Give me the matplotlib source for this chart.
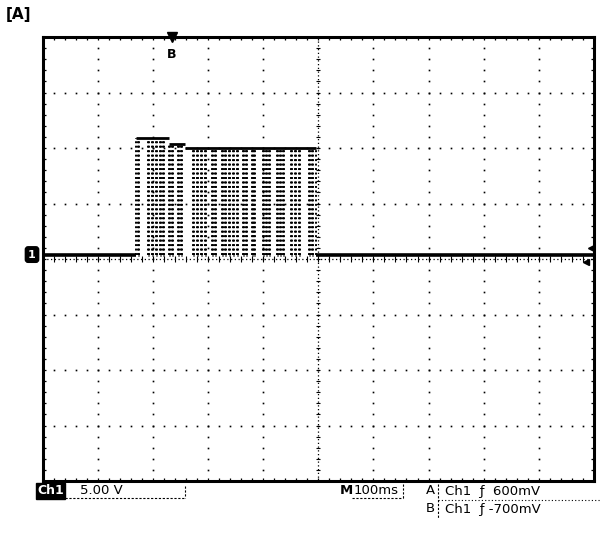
import matplotlib

matplotlib.use("Agg")
import matplotlib.pyplot as plt
import numpy as np

# scope settings (100 ms/div, 5 V/div, 10 x 8 divisions)
ms_per_div = 100
volts_per_div = 5
screen_center_v = -0.4  # ground marker sits slightly above screen centre

# burst: rises at burst_on, falls at burst_off; high level steps down a little
burst_on = 169.5
burst_off = 496.0
level_breaks = [169.5, 229.0, 258.0, 496.0]
level_volts = [10.5, 10.0, 9.6]

# short low-going dips inside the burst (start, end in ms)
dip_start = [173, 191, 199, 206, 213, 218, 229, 235, 246, 251, 273, 280, 287, 295,
             307, 313, 326, 331, 338, 345, 353, 364, 369, 380, 384, 400, 405, 411,
             425, 431, 436, 451, 458, 465, 483, 489]
dip_end = [175, 193, 201, 208, 215, 220, 231, 237, 248, 253, 275, 282, 289, 297,
           309, 315, 328, 333, 340, 347, 355, 366, 371, 382, 386, 402, 407, 413,
           427, 433, 438, 453, 460, 467, 485, 491]

trigger_pos_ms = 235
trig_a_v = 0.6
trig_b_v = -0.7

W, H = 606, 533
fig = plt.figure(figsize=(W / 100, H / 100), dpi=100)
ax = fig.add_axes([42.5 / W, 1 - 481 / H, 551.5 / W, 444 / H])
ax.set_xlim(0, 10 * ms_per_div)
ax.set_ylim(screen_center_v - 4 * volts_per_div, screen_center_v + 4 * volts_per_div)


def level_at(t):
    i = np.searchsorted(level_breaks, t, side="right") - 1
    return level_volts[min(max(i, 0), len(level_volts) - 1)]


# graticule dots
ys = np.arange(ax.get_ylim()[0], ax.get_ylim()[1] + 0.01, volts_per_div / 5)
xs = np.arange(0, 1000.1, ms_per_div / 5)
for k in range(1, 10):
    if k == 5:
        continue
    ax.plot(np.full_like(ys, k * ms_per_div), ys, ls="none", marker="s", ms=1.2,
            color="black", mew=0)
for j in range(1, 8):
    if j == 4:
        continue
    ax.plot(xs, np.full_like(xs, screen_center_v + (j - 4) * volts_per_div), ls="none",
            marker="s", ms=1.2, color="black", mew=0)

# centre cross with small ticks
ax.axvline(500, color="black", lw=0.9, ls=(0, (1, 2)))
ax.axhline(screen_center_v, color="black", lw=0.9, ls=(0, (1, 2)))
ax.hlines(ys, 496, 504, color="black", lw=0.8)
ax.vlines(xs, screen_center_v - 0.3, screen_center_v + 0.3, color="black", lw=0.8)

# trace: baseline outside the burst
ax.hlines(0, 0, burst_on, color="black", lw=2.6)
ax.hlines(0, burst_off, 1000, color="black", lw=2.6)
# top of the burst
for a, b, v in zip(level_breaks[:-1], level_breaks[1:], level_volts):
    ax.hlines(v, a, b, color="black", lw=2.0)
# bottoms of the dips
ax.hlines(np.zeros(len(dip_start)), dip_start, dip_end, color="black", lw=2.0)
# edges, drawn dotted like the sampled display
edges = [burst_on, burst_off] + dip_start + dip_end
ax.vlines(edges, 0, [level_at(min(t, burst_off - 0.1)) for t in edges],
          color="black", lw=1.4, ls=(0, (1, 1.3)))

# frame ticks
ax.set_xticks(xs)
ax.set_yticks(ys)
ax.tick_params(direction="in", length=2.5, width=0.9, labelbottom=False,
               labelleft=False, top=True, right=True)
for s in ax.spines.values():
    s.set_linewidth(2.2)

# markers: trigger position, ground, trigger levels
ax.plot(trigger_pos_ms, ax.get_ylim()[1], marker="v", ms=7, color="black",
        clip_on=False)
ax.text(trigger_pos_ms, ax.get_ylim()[1] - 1.0, "B", ha="center", va="top",
        fontsize=9, fontweight="bold")
ax.plot(995, trig_a_v, marker="<", ms=5, color="black", clip_on=False)
ax.plot(985, trig_b_v, marker="<", ms=4, color="black", clip_on=False)
ax.text(-12, 0, "1", ha="right", va="center", color="white", fontsize=8,
        fontweight="bold",
        bbox=dict(boxstyle="round,pad=0.25", fc="black", ec="black"))


# readout below the screen
def px(x, y):
    return x / W, 1 - y / H


fig.text(*px(6, 14), "[A]", fontsize=11, fontweight="bold", va="center")
fig.text(*px(37, 491), "Ch1", fontsize=9, fontweight="bold", color="white",
         va="center", bbox=dict(boxstyle="square,pad=0.12", fc="black", ec="black"))
fig.text(*px(80, 491), "5.00 V", fontsize=9.5, va="center")
fig.add_artist(plt.Line2D([65 / W, 185 / W], [1 - 498 / H] * 2, color="black", lw=0.8,
                          ls=(0, (2, 1.5))))
fig.add_artist(plt.Line2D([185 / W] * 2, [1 - 486 / H, 1 - 498 / H], color="black",
                          lw=0.8, ls=(0, (2, 1.5))))
fig.text(*px(340, 491), "M", fontsize=9.5, va="center", fontweight="bold")
fig.text(*px(354, 491), "100ms", fontsize=9.5, va="center")
fig.add_artist(plt.Line2D([352 / W, 403 / W], [1 - 498 / H] * 2, color="black", lw=0.8,
                          ls=(0, (2, 1.5))))
fig.add_artist(plt.Line2D([403 / W] * 2, [1 - 484 / H, 1 - 498 / H], color="black",
                          lw=0.8, ls=(0, (2, 1.5))))
fig.text(*px(426, 491), "A", fontsize=9.5, va="center")
fig.text(*px(445, 491), "Ch1  ƒ  600mV", fontsize=9.5, va="center")
fig.text(*px(426, 509), "B", fontsize=9.5, va="center")
fig.text(*px(445, 509), "Ch1  ƒ -700mV", fontsize=9.5, va="center")
fig.add_artist(plt.Line2D([438 / W, 600 / W], [1 - 500 / H] * 2, color="black", lw=0.8,
                          ls=(0, (1, 2))))
fig.add_artist(plt.Line2D([438 / W] * 2, [1 - 484 / H, 1 - 518 / H], color="black",
                          lw=0.8, ls=(0, (2, 1.5))))

fig.savefig("out.png", dpi=100)
